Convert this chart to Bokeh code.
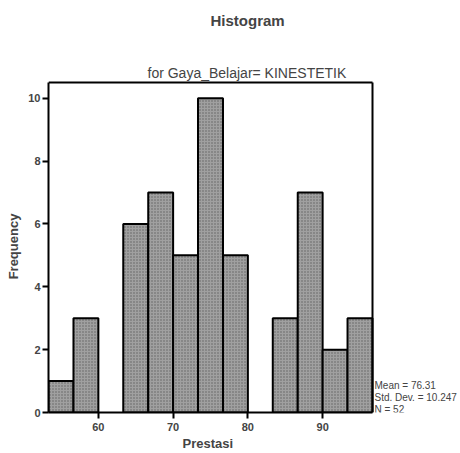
from bokeh.plotting import figure
from bokeh.models import Title, Label, FixedTicker, Range1d
from bokeh.embed import file_html
from bokeh.resources import INLINE

# Histogram of Prestasi for Gaya_Belajar = KINESTETIK
bin_edges = [53.33, 56.67, 60.0, 63.33, 66.67, 70.0, 73.33, 76.67, 80.0,
             83.33, 86.67, 90.0, 93.33, 96.67]
frequency = [1, 3, 0, 6, 7, 5, 10, 5, 0, 3, 7, 2, 3]
x_ticks = [60, 70, 80, 90]
y_ticks = [0, 2, 4, 6, 8, 10]
y_top = 10.5
stats_lines = ["Mean = 76.31", "Std. Dev. = 10.247", "N = 52"]

FONT = "Liberation Sans"
W, H = 460, 453

# layout (pixels): histogram box occupies x 48..372, y 82..412
box_l, box_r, box_t, box_b = 48, 372, 82, 412
px_x = (box_r - box_l) / (bin_edges[-1] - bin_edges[0])
px_y = (box_b - box_t) / y_top
x_end = bin_edges[-1] + (W - box_r) / px_x      # room for the statistics text
y_end = y_top + 2 / px_y

lefts = [bin_edges[i] for i in range(len(frequency)) if frequency[i] > 0]
rights = [bin_edges[i + 1] for i in range(len(frequency)) if frequency[i] > 0]
tops = [f for f in frequency if f > 0]

p = figure(width=W, height=H, output_backend="svg", toolbar_location=None,
           x_range=Range1d(bin_edges[0], x_end), y_range=Range1d(0, y_end),
           title="Histogram",
           min_border_left=box_l, min_border_right=0, min_border_top=box_t - 2,
           min_border_bottom=H - box_b)

p.title.align = "left"
p.title.offset = 162
p.title.text_font = FONT
p.title.text_font_size = "15px"
p.title.text_font_style = "bold"
p.title.standoff = 0

sub = Title(text="for Gaya_Belajar= KINESTETIK", align="left", offset=99,
            text_font=FONT, text_font_size="14px", text_font_style="normal",
            standoff=0)
p.add_layout(sub, "above")

# blank spacer between the subtitle and the main title
spacer = Title(text=" ", text_font=FONT, text_font_size="29px", standoff=0)
p.add_layout(spacer, "above")

xlab = Title(text="Prestasi", align="left", offset=134, text_font=FONT,
             text_font_size="13px", text_font_style="bold", standoff=0)
p.add_layout(xlab, "below")

p.quad(left=lefts, right=rights, top=tops, bottom=0,
       fill_color="#a0a0a0", line_color="black", line_width=2,
       hatch_pattern="dot", hatch_color="#505050", hatch_scale=3, hatch_weight=1,
       hatch_alpha=0.8)

# top and right edges of the histogram box
p.segment(x0=[bin_edges[0], bin_edges[-1]], y0=[y_top, 0],
          x1=[bin_edges[-1], bin_edges[-1]], y1=[y_top, y_top],
          line_color="black", line_width=2)

p.xgrid.visible = False
p.ygrid.visible = False
p.outline_line_color = None
p.background_fill_color = "white"
p.border_fill_color = "white"

for ax in (p.xaxis[0], p.yaxis[0]):
    ax.axis_line_width = 2
    ax.axis_line_color = "black"
    ax.major_tick_line_width = 2
    ax.major_tick_out = 6
    ax.major_tick_in = 0
    ax.minor_tick_line_color = None
    ax.major_label_text_font = FONT
    ax.major_label_text_font_style = "bold"
    ax.major_label_text_font_size = "11px"
    ax.axis_label_text_font = FONT
    ax.axis_label_text_font_style = "bold"
    ax.axis_label_text_font_size = "13px"

p.xaxis.ticker = FixedTicker(ticks=x_ticks)
p.yaxis.ticker = FixedTicker(ticks=y_ticks)
p.xaxis.bounds = (bin_edges[0], bin_edges[-1])
p.yaxis.bounds = (0, y_top)
p.yaxis.axis_label = "Frequency"
p.xaxis.major_label_standoff = 4
p.yaxis.major_label_standoff = 2
p.yaxis.axis_label_standoff = 4

for txt, yy in zip(stats_lines, [0.86, 0.48, 0.1]):
    p.add_layout(Label(x=bin_edges[-1], y=yy, x_offset=2, text=txt,
                       text_baseline="middle", text_align="left",
                       text_font=FONT, text_font_size="10px"))

open("out.html", "w").write(file_html(p, INLINE))
